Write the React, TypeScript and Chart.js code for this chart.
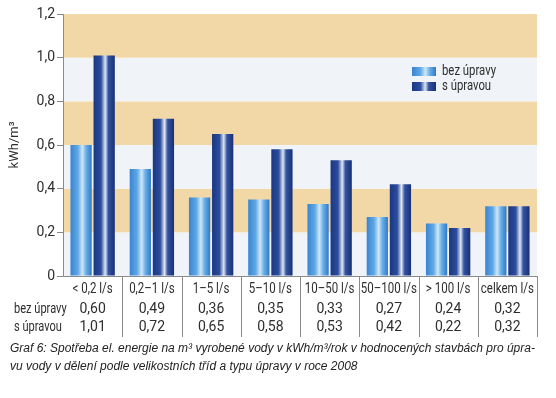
import React, { useEffect, useRef } from 'react';
import { Chart, registerables } from 'chart.js';

Chart.register(...registerables);

const categories = ['< 0,2 l/s', '0,2–1 l/s', '1–5 l/s', '5–10 l/s', '10–50 l/s', '50–100 l/s', '> 100 l/s', 'celkem l/s'];
const bezUpravy = [0.6, 0.49, 0.36, 0.35, 0.33, 0.27, 0.24, 0.32];
const sUpravou = [1.01, 0.72, 0.65, 0.58, 0.53, 0.42, 0.22, 0.32];
const seriesLabels = ['bez úpravy', 's úpravou'];
const yTickValues = [0, 0.2, 0.4, 0.6, 0.8, 1.0, 1.2];
const yTitle = 'kWh/m³';
const captionLines = [
  'Graf 6: Spotřeba el. energie na m³ vyrobené vody v kWh/m³/rok v hodnocených stavbách pro úpra-',
  'vu vody v dělení podle velikostních tříd a typu úpravy v roce 2008',
];

const FONT = 'Roboto, "Noto Sans", sans-serif';
const TEXT_COLOR = '#2e2e2e';
const CAT_PCT = 0.78;
const BAR_PCT = 0.92;

const fmt = (v: number) => v.toFixed(2).replace('.', ',');

function barGradient(ctx: CanvasRenderingContext2D, x0: number, x1: number, dark: boolean) {
  const g = ctx.createLinearGradient(x0, 0, x1, 0);
  if (dark) {
    g.addColorStop(0, '#1a3783');
    g.addColorStop(0.35, '#2b4d9c');
    g.addColorStop(0.55, '#dfe6f5');
    g.addColorStop(0.7, '#34539f');
    g.addColorStop(1, '#172f78');
  } else {
    g.addColorStop(0, '#3a84d2');
    g.addColorStop(0.35, '#5ea8e5');
    g.addColorStop(0.56, '#cfe7f9');
    g.addColorStop(0.74, '#68aee6');
    g.addColorStop(1, '#3079c8');
  }
  return g;
}

function scriptBg(dsIndex: number) {
  return (c: any) => {
    const chart = c.chart;
    const xs = chart.scales?.x;
    const area = chart.chartArea;
    if (!xs || !area || c.dataIndex === undefined) return dsIndex ? '#1f3f8c' : '#4a98de';
    const catW = (area.right - area.left) / categories.length;
    const groupW = catW * CAT_PCT;
    const slot = groupW / 2;
    const bw = slot * BAR_PCT;
    const center = xs.getPixelForValue(c.dataIndex) - groupW / 2 + slot * dsIndex + slot / 2;
    return barGradient(chart.ctx, center - bw / 2, center + bw / 2, dsIndex === 1);
  };
}

function drawText(ctx: CanvasRenderingContext2D, text: string, x: number, y: number, align: CanvasTextAlign, sx: number) {
  ctx.save();
  ctx.translate(x, y);
  ctx.scale(sx, 1);
  ctx.textAlign = align;
  ctx.fillText(text, 0, 0);
  ctx.restore();
}

const bandsPlugin = {
  id: 'bands',
  beforeDraw(chart: any) {
    const { ctx, chartArea, scales } = chart;
    const y = scales.y;
    ctx.save();
    ctx.fillStyle = '#ffffff';
    ctx.fillRect(0, 0, chart.width, chart.height);
    for (let i = 0; i < yTickValues.length - 1; i++) {
      const top = y.getPixelForValue(yTickValues[i + 1]);
      const bot = y.getPixelForValue(yTickValues[i]);
      ctx.fillStyle = i % 2 === 1 ? '#f3d8a7' : '#f0f3f7';
      ctx.fillRect(chartArea.left, top, chartArea.right - chartArea.left, bot - top);
    }
    ctx.restore();
  },
  afterDraw(chart: any) {
    const { ctx, chartArea, scales } = chart;
    const x = scales.x;
    const y = scales.y;
    const y0 = y.getPixelForValue(0);
    ctx.save();
    ctx.strokeStyle = '#8a8a8a';
    ctx.lineWidth = 1;
    ctx.beginPath();
    ctx.moveTo(chartArea.left, Math.round(y0) + 0.5);
    ctx.lineTo(chartArea.right, Math.round(y0) + 0.5);
    ctx.stroke();
    const catW = (chartArea.right - chartArea.left) / categories.length;
    for (let i = 1; i <= categories.length; i++) {
      const sx = Math.round(chartArea.left + catW * i) + 0.5;
      ctx.beginPath();
      ctx.moveTo(sx, y0);
      ctx.lineTo(sx, y0 + 61);
      ctx.stroke();
    }
    ctx.fillStyle = TEXT_COLOR;
    ctx.textBaseline = 'middle';
    ctx.font = `14px ${FONT}`;
    categories.forEach((cat, i) => {
      const cx = x.getPixelForValue(i);
      drawText(ctx, cat, cx, y0 + 13, 'center', 0.82);
      drawText(ctx, fmt(bezUpravy[i]), cx, y0 + 33, 'center', 1);
      drawText(ctx, fmt(sUpravou[i]), cx, y0 + 51, 'center', 1);
    });
    drawText(ctx, seriesLabels[0], 14, y0 + 33, 'left', 0.79);
    drawText(ctx, seriesLabels[1], 14, y0 + 51, 'left', 0.79);
    const lx = 412;
    const ly = [67, 82];
    ly.forEach((ty, k) => {
      ctx.fillStyle = barGradient(ctx, lx, lx + 24, k === 1);
      ctx.fillRect(lx, ty, 24, 9);
      ctx.fillStyle = TEXT_COLOR;
      ctx.font = `14px ${FONT}`;
      drawText(ctx, chart.data.datasets[k].label, lx + 30, ty + 4.5, 'left', 0.81);
    });
    ctx.fillStyle = '#222222';
    ctx.font = 'italic 12px "Liberation Sans", Arial, sans-serif';
    ctx.textAlign = 'left';
    ctx.fillText(captionLines[0], 10, 349);
    ctx.fillText(captionLines[1], 10, 367);
    ctx.restore();
  },
};

export default function App() {
  const ref = useRef<HTMLCanvasElement | null>(null);
  useEffect(() => {
    if (!ref.current) return;
    const chart = new Chart(ref.current, {
      type: 'bar',
      data: {
        labels: categories,
        datasets: [
          { label: seriesLabels[0], data: bezUpravy, backgroundColor: scriptBg(0) as any, categoryPercentage: CAT_PCT, barPercentage: BAR_PCT },
          { label: seriesLabels[1], data: sUpravou, backgroundColor: scriptBg(1) as any, categoryPercentage: CAT_PCT, barPercentage: BAR_PCT },
        ],
      },
      options: {
        responsive: false,
        animation: false,
        layout: { padding: { left: 0, right: 19, top: 14, bottom: 122 } },
        plugins: { legend: { display: false }, tooltip: { enabled: false } },
        scales: {
          x: { display: false },
          y: {
            min: 0,
            max: 1.2,
            afterFit: (s: any) => { s.width = 63; },
            afterBuildTicks: (s: any) => { s.ticks = yTickValues.map((v) => ({ value: v })); },
            border: { display: true, color: '#8a8a8a' },
            grid: { drawOnChartArea: false, tickLength: 6, color: '#8a8a8a' },
            ticks: {
              padding: 2,
              color: TEXT_COLOR,
              font: { size: 14, family: FONT },
              callback: (v: any) => (v === 0 ? '0' : Number(v).toFixed(1).replace('.', ',')),
            },
            title: {
              display: true,
              text: yTitle,
              color: TEXT_COLOR,
              font: { size: 13, family: FONT },
              padding: { top: 7, bottom: 0 },
            },
          },
        },
      },
      plugins: [bandsPlugin],
    });
    return () => chart.destroy();
  }, []);
  return (
    <div style={{ position: 'absolute', left: 0, top: 0, width: 556, height: 398 }}>
      <canvas ref={ref} width={556} height={398} />
    </div>
  );
}
